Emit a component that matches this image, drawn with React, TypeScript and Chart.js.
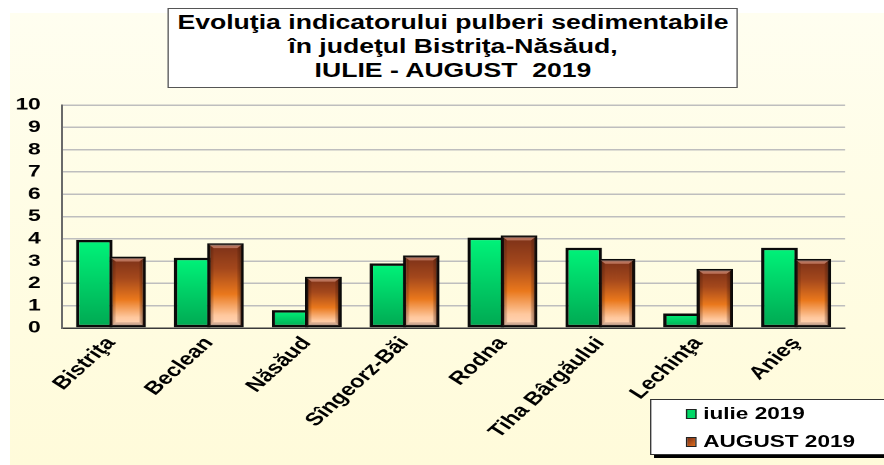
import React, { useEffect, useRef } from "react";
import { Chart, registerables } from "chart.js";

Chart.register(...registerables);

const categories = ["Bistriţa", "Beclean", "Năsăud", "Sîngeorz-Băi", "Rodna", "Tiha Bârgăului", "Lechinţa", "Anieş"];
const iulie2019 = [3.95, 3.15, 0.8, 2.9, 4.05, 3.6, 0.65, 3.6];
const august2019 = [3.2, 3.8, 2.3, 3.25, 4.15, 3.1, 2.65, 3.1];
const seriesNames = ["iulie 2019", "AUGUST 2019"];
const titleLines = ["Evoluţia indicatorului pulberi sedimentabile", "în judeţul Bistriţa-Năsăud,", "IULIE - AUGUST  2019"];
const yMin = 0;
const yMax = 10;
const yStep = 1;

const FULL_W = 884;
const FULL_H = 465;
const INNER_W = 665;
const S = FULL_W / INNER_W;
const FONT = "'Liberation Sans', Arial, Helvetica, sans-serif";

const greenFill = (c: CanvasRenderingContext2D, top: number, bottom: number) => {
  const g = c.createLinearGradient(0, top, 0, bottom);
  g.addColorStop(0, "#00F47A");
  g.addColorStop(1, "#00A852");
  return g;
};
const brownFill = (c: CanvasRenderingContext2D, top: number, bottom: number) => {
  const g = c.createLinearGradient(0, top, 0, bottom);
  g.addColorStop(0, "#7A3018");
  g.addColorStop(0.3, "#A4481C");
  g.addColorStop(0.6, "#EA781C");
  g.addColorStop(0.85, "#FFC89E");
  g.addColorStop(1, "#FFDAC0");
  return g;
};

const scriptFill = (kind: "g" | "b") => (ctx: any) => {
  const fallback = kind === "g" ? "#00D060" : "#C0601A";
  const chart = ctx.chart;
  const y = chart.scales && chart.scales.y;
  if (!y || ctx.type !== "data") return fallback;
  const top = y.getPixelForValue(ctx.raw);
  const bottom = y.getPixelForValue(0);
  if (!isFinite(top) || !isFinite(bottom) || top === bottom) return fallback;
  return kind === "g" ? greenFill(chart.ctx, top, bottom) : brownFill(chart.ctx, top, bottom);
};

const bevelPlugin = {
  id: "bevel",
  afterDatasetsDraw(chart: any) {
    const meta = chart.getDatasetMeta(1);
    const c: CanvasRenderingContext2D = chart.ctx;
    meta.data.forEach((bar: any) => {
      const p = bar.getProps(["x", "y", "base", "width"], true);
      if (![p.x, p.y, p.base, p.width].every((v: number) => isFinite(v))) return;
      const inset = 1.4;
      const l = p.x - p.width / 2 + inset;
      const r = p.x + p.width / 2 - inset;
      const t = p.y + inset;
      const b = p.base - inset;
      const bw = 3.5;
      c.save();
      let g = c.createLinearGradient(l, 0, l + bw, 0);
      g.addColorStop(0, "rgba(60,20,5,0.45)");
      g.addColorStop(1, "rgba(60,20,5,0.1)");
      c.fillStyle = g;
      c.beginPath();
      c.moveTo(l, t); c.lineTo(l + bw, t + bw); c.lineTo(l + bw, b - bw); c.lineTo(l, b); c.closePath();
      c.fill();
      g = c.createLinearGradient(r - bw, 0, r, 0);
      g.addColorStop(0, "rgba(60,20,5,0.15)");
      g.addColorStop(1, "rgba(60,20,5,0.55)");
      c.fillStyle = g;
      c.beginPath();
      c.moveTo(r, t); c.lineTo(r - bw, t + bw); c.lineTo(r - bw, b - bw); c.lineTo(r, b); c.closePath();
      c.fill();
      c.fillStyle = "rgba(255,190,170,0.45)";
      c.beginPath();
      c.moveTo(l, t); c.lineTo(r, t); c.lineTo(r - bw, t + bw); c.lineTo(l + bw, t + bw); c.closePath();
      c.fill();
      c.fillStyle = "rgba(120,90,80,0.3)";
      c.beginPath();
      c.moveTo(l, b); c.lineTo(r, b); c.lineTo(r - bw, b - bw); c.lineTo(l + bw, b - bw); c.closePath();
      c.fill();
      c.restore();
    });
  },
};

export default function App() {
  const canvasRef = useRef<HTMLCanvasElement | null>(null);

  useEffect(() => {
    document.body.style.margin = "0";
    const canvas = canvasRef.current;
    if (!canvas) return;
    const chart = new Chart(canvas, {
      type: "bar",
      data: {
        labels: categories,
        datasets: [
          {
            label: seriesNames[0],
            data: iulie2019,
            backgroundColor: scriptFill("g"),
            borderColor: "#0A0A0A",
            borderWidth: 2.5,
            borderSkipped: false,
            categoryPercentage: 0.68,
            barPercentage: 1.1,
          },
          {
            label: seriesNames[1],
            data: august2019,
            backgroundColor: scriptFill("b"),
            borderColor: "#0A0A0A",
            borderWidth: 2.5,
            borderSkipped: false,
            categoryPercentage: 0.68,
            barPercentage: 1.1,
          },
        ],
      },
      options: {
        responsive: false,
        devicePixelRatio: 2,
        animation: false,
        layout: { padding: { left: 0, right: INNER_W - 845 / S, top: 105, bottom: 0 } },
        plugins: {
          legend: { display: false },
          title: { display: false },
          tooltip: { enabled: false },
        },
        scales: {
          x: {
            ticks: {
              color: "#000",
              font: { family: FONT, size: 18, weight: "bold" },
              minRotation: 50,
              maxRotation: 50,
              autoSkip: false,
              padding: 5,
            },
            grid: { display: false, drawTicks: false },
            border: { display: true, color: "#3A3A3A", width: 1.5 },
            afterFit: (s: any) => {
              s.height = FULL_H - 328;
            },
          },
          y: {
            min: yMin,
            max: yMax,
            ticks: {
              stepSize: yStep,
              autoSkip: false,
              color: "#000",
              font: { family: FONT, size: 17, weight: "bold" },
              padding: 16,
            },
            grid: { color: "#BEBEBE", lineWidth: 1.5, drawTicks: false },
            border: { display: true, color: "#6A6A6A", width: 1.5 },
            afterFit: (s: any) => {
              s.width = 62 / S;
            },
          },
        },
      },
      plugins: [bevelPlugin],
    } as any);
    return () => chart.destroy();
  }, []);

  return (
    <div
      style={{
        position: "fixed",
        left: 0,
        top: 0,
        width: FULL_W,
        height: FULL_H,
        overflow: "hidden",
        background: "#FFFFFF",
      }}
    >
      <div
        style={{
          position: "absolute",
          left: 10,
          top: 13,
          right: 0,
          bottom: 0,
          background: "linear-gradient(to bottom, #FFFEF0 0%, #FFFDE6 40%, #FFFBDA 100%)",
        }}
      />
      <div
        style={{
          position: "absolute",
          left: 0,
          top: 0,
          width: INNER_W,
          height: FULL_H,
          transform: `scaleX(${S})`,
          transformOrigin: "0 0",
        }}
      >
        <canvas ref={canvasRef} width={INNER_W} height={FULL_H} style={{ position: "absolute", left: 0, top: 0 }} />
        <div
          style={{
            position: "absolute",
            left: 168 / S,
            top: 8,
            width: (738 - 168) / S,
            height: 80,
            boxSizing: "border-box",
            border: "1px solid #555",
            background: "#FFFFFF",
            textAlign: "center",
            fontFamily: FONT,
            fontWeight: "bold",
            fontSize: 20,
            lineHeight: "24px",
            color: "#000",
            paddingTop: 1,
            whiteSpace: "pre",
          }}
        >
          {titleLines.map((t, i) => (
            <div key={i}>{t}</div>
          ))}
        </div>
        <div
          style={{
            position: "absolute",
            left: 650 / S,
            top: 399,
            width: 260,
            height: 56,
            boxSizing: "border-box",
            border: "1px solid #333",
            background: "#FFFFFF",
            boxShadow: "3px 3px 0 #000",
            fontFamily: FONT,
            fontWeight: "bold",
            fontSize: 17,
            color: "#000",
          }}
        >
          {seriesNames.map((n, i) => (
            <div
              key={i}
              style={{
                position: "absolute",
                left: 26,
                top: i === 0 ? 4 : 32,
                height: 20,
                display: "flex",
                alignItems: "center",
                whiteSpace: "pre",
              }}
            >
              <span
                style={{
                  display: "inline-block",
                  width: 8,
                  height: 10,
                  boxSizing: "border-box",
                  border: "1px solid #222",
                  background: i === 0 ? "#00D866" : "linear-gradient(135deg, #7A2E14, #E07020)",
                  marginRight: 5,
                }}
              />
              {n}
            </div>
          ))}
        </div>
      </div>
    </div>
  );
}
